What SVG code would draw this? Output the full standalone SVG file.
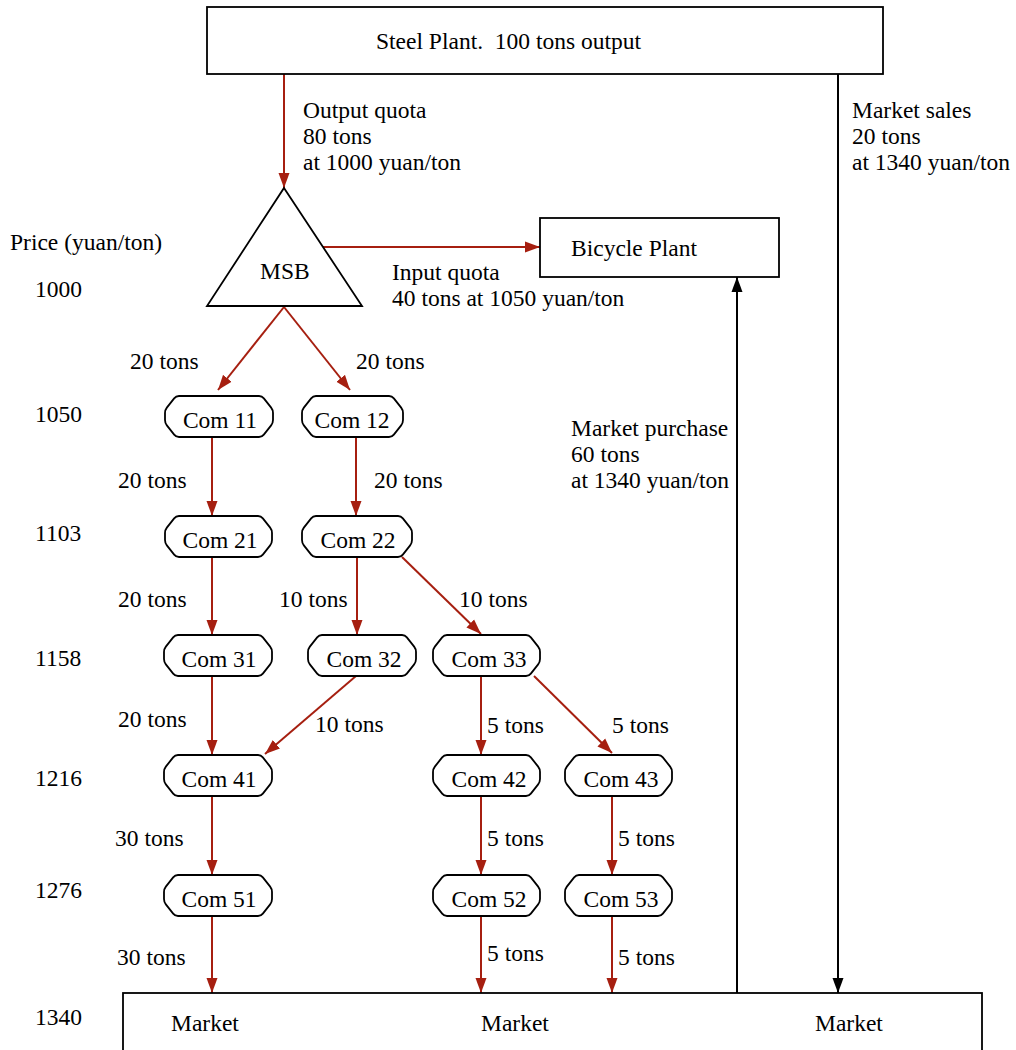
<svg xmlns="http://www.w3.org/2000/svg" width="1016" height="1050" viewBox="0 0 1016 1050">
<style>
text{font-family:"Liberation Serif","Times New Roman",serif;font-size:23.5px;fill:#000}
.c{text-anchor:middle}
.box{fill:#fff;stroke:#000;stroke-width:1.8}
.nd{fill:#fff;stroke:#000;stroke-width:1.8}
.e{fill:none;stroke:#a61f10;stroke-width:2;marker-end:url(#ar)}
.k{fill:none;stroke:#000;stroke-width:2}
.ka{fill:none;stroke:#000;stroke-width:2;marker-end:url(#ak)}
</style>
<defs>
<marker id="ar" markerUnits="userSpaceOnUse" markerWidth="16" markerHeight="12" refX="15" refY="6" orient="auto"><path d="M0,0.5 L15,6 L0,11.5 Z" fill="#a61f10"/></marker>
<marker id="ak" markerUnits="userSpaceOnUse" markerWidth="16" markerHeight="12" refX="15" refY="6" orient="auto"><path d="M0,0.5 L15,6 L0,11.5 Z" fill="#000"/></marker>
</defs>
<rect width="1016" height="1050" fill="#fff"/>

<g id="connectors">
<path class="e" d="M284,74 V188"/>
<path class="e" d="M320,247 H540"/>
<path class="e" d="M284,307 L218,390"/>
<path class="e" d="M284,307 L350,390"/>
<path class="e" d="M212,437 V516"/>
<path class="e" d="M356,437 V516"/>
<path class="e" d="M212,557 V635"/>
<path class="e" d="M357,557 V635"/>
<path class="e" d="M402,557 L481,634"/>
<path class="e" d="M212,676 V755"/>
<path class="e" d="M356,676 L265,754"/>
<path class="e" d="M481,676 V755"/>
<path class="e" d="M534,676 L612,753"/>
<path class="e" d="M212,796 V875"/>
<path class="e" d="M481,796 V875"/>
<path class="e" d="M612,796 V875"/>
<path class="e" d="M212,916 V993"/>
<path class="e" d="M481,916 V993"/>
<path class="e" d="M612,916 V993"/>
<path class="ka" d="M838,74 V993"/>
<path class="ka" d="M737,993 V277"/>
</g>

<g id="labels">
<text x="10" y="250">Price (yuan/ton)</text>
<text x="35" y="297">1000</text>
<text x="35" y="422">1050</text>
<text x="35" y="541">1103</text>
<text x="35" y="666">1158</text>
<text x="35" y="786">1216</text>
<text x="35" y="898">1276</text>
<text x="35" y="1025">1340</text>
<text x="303" y="118">Output quota</text>
<text x="303" y="144">80 tons</text>
<text x="303" y="170">at 1000 yuan/ton</text>
<text x="852" y="118">Market sales</text>
<text x="852" y="144">20 tons</text>
<text x="852" y="170">at 1340 yuan/ton</text>
<text x="392" y="280">Input quota</text>
<text x="392" y="306">40 tons at 1050 yuan/ton</text>
<text x="571" y="436">Market purchase</text>
<text x="571" y="462">60 tons</text>
<text x="571" y="488">at 1340 yuan/ton</text>
<text x="130" y="369">20 tons</text>
<text x="356" y="369">20 tons</text>
<text x="118" y="488">20 tons</text>
<text x="374" y="488">20 tons</text>
<text x="118" y="607">20 tons</text>
<text x="279" y="607">10 tons</text>
<text x="459" y="607">10 tons</text>
<text x="118" y="727">20 tons</text>
<text x="315" y="732">10 tons</text>
<text x="487" y="733">5 tons</text>
<text x="612" y="733">5 tons</text>
<text x="115" y="846">30 tons</text>
<text x="487" y="846">5 tons</text>
<text x="618" y="846">5 tons</text>
<text x="117" y="965">30 tons</text>
<text x="487" y="961">5 tons</text>
<text x="618" y="965">5 tons</text>
</g>

<g id="steel"><rect class="box" x="207" y="7" width="676" height="67"/><text x="376" y="49" xml:space="preserve">Steel Plant.  100 tons output</text></g>
<g id="bicycle"><rect class="box" x="540" y="218" width="239" height="59"/><text x="571" y="256">Bicycle Plant</text></g>
<g id="market"><rect class="box" x="123" y="993" width="859" height="80"/><text x="171" y="1031">Market</text><text x="481" y="1031">Market</text><text x="815" y="1031">Market</text></g>
<g id="msb"><polygon class="box" points="284,188 362,306 207,306"/><text x="260" y="279">MSB</text></g>

<g id="com11"><path class="nd" d="M179,396 h80 q3,0 4.85,2.36 l7.3,9.28 q1.85,2.36 1.85,5.36 v7 q0,3 -1.85,5.36 l-7.3,9.28 q-1.85,2.36 -4.85,2.36 h-80 q-3,0 -4.85,-2.36 l-7.3,-9.28 q-1.85,-2.36 -1.85,-5.36 v-7 q0,-3 1.85,-5.36 l7.3,-9.28 q1.85,-2.36 4.85,-2.36 z"/><text class="c" x="220" y="428">Com 11</text></g>
<g id="com12"><path class="nd" d="M316,396 h73 q3,0 4.85,2.36 l7.3,9.28 q1.85,2.36 1.85,5.36 v7 q0,3 -1.85,5.36 l-7.3,9.28 q-1.85,2.36 -4.85,2.36 h-73 q-3,0 -4.85,-2.36 l-7.3,-9.28 q-1.85,-2.36 -1.85,-5.36 v-7 q0,-3 1.85,-5.36 l7.3,-9.28 q1.85,-2.36 4.85,-2.36 z"/><text class="c" x="352" y="428">Com 12</text></g>
<g id="com21"><path class="nd" d="M179,516 h79 q3,0 4.85,2.36 l7.3,9.28 q1.85,2.36 1.85,5.36 v7 q0,3 -1.85,5.36 l-7.3,9.28 q-1.85,2.36 -4.85,2.36 h-79 q-3,0 -4.85,-2.36 l-7.3,-9.28 q-1.85,-2.36 -1.85,-5.36 v-7 q0,-3 1.85,-5.36 l7.3,-9.28 q1.85,-2.36 4.85,-2.36 z"/><text class="c" x="220" y="548">Com 21</text></g>
<g id="com22"><path class="nd" d="M316,516 h82 q3,0 4.85,2.36 l7.3,9.28 q1.85,2.36 1.85,5.36 v7 q0,3 -1.85,5.36 l-7.3,9.28 q-1.85,2.36 -4.85,2.36 h-82 q-3,0 -4.85,-2.36 l-7.3,-9.28 q-1.85,-2.36 -1.85,-5.36 v-7 q0,-3 1.85,-5.36 l7.3,-9.28 q1.85,-2.36 4.85,-2.36 z"/><text class="c" x="358" y="548">Com 22</text></g>
<g id="com31"><path class="nd" d="M178,635 h80 q3,0 4.85,2.36 l7.3,9.28 q1.85,2.36 1.85,5.36 v7 q0,3 -1.85,5.36 l-7.3,9.28 q-1.85,2.36 -4.85,2.36 h-80 q-3,0 -4.85,-2.36 l-7.3,-9.28 q-1.85,-2.36 -1.85,-5.36 v-7 q0,-3 1.85,-5.36 l7.3,-9.28 q1.85,-2.36 4.85,-2.36 z"/><text class="c" x="219" y="667">Com 31</text></g>
<g id="com32"><path class="nd" d="M322,635 h80 q3,0 4.85,2.36 l7.3,9.28 q1.85,2.36 1.85,5.36 v7 q0,3 -1.85,5.36 l-7.3,9.28 q-1.85,2.36 -4.85,2.36 h-80 q-3,0 -4.85,-2.36 l-7.3,-9.28 q-1.85,-2.36 -1.85,-5.36 v-7 q0,-3 1.85,-5.36 l7.3,-9.28 q1.85,-2.36 4.85,-2.36 z"/><text class="c" x="364" y="667">Com 32</text></g>
<g id="com33"><path class="nd" d="M447,635 h79 q3,0 4.85,2.36 l7.3,9.28 q1.85,2.36 1.85,5.36 v7 q0,3 -1.85,5.36 l-7.3,9.28 q-1.85,2.36 -4.85,2.36 h-79 q-3,0 -4.85,-2.36 l-7.3,-9.28 q-1.85,-2.36 -1.85,-5.36 v-7 q0,-3 1.85,-5.36 l7.3,-9.28 q1.85,-2.36 4.85,-2.36 z"/><text class="c" x="489" y="667">Com 33</text></g>
<g id="com41"><path class="nd" d="M178,755 h80 q3,0 4.85,2.36 l7.3,9.28 q1.85,2.36 1.85,5.36 v7 q0,3 -1.85,5.36 l-7.3,9.28 q-1.85,2.36 -4.85,2.36 h-80 q-3,0 -4.85,-2.36 l-7.3,-9.28 q-1.85,-2.36 -1.85,-5.36 v-7 q0,-3 1.85,-5.36 l7.3,-9.28 q1.85,-2.36 4.85,-2.36 z"/><text class="c" x="219" y="787">Com 41</text></g>
<g id="com42"><path class="nd" d="M447,755 h79 q3,0 4.85,2.36 l7.3,9.28 q1.85,2.36 1.85,5.36 v7 q0,3 -1.85,5.36 l-7.3,9.28 q-1.85,2.36 -4.85,2.36 h-79 q-3,0 -4.85,-2.36 l-7.3,-9.28 q-1.85,-2.36 -1.85,-5.36 v-7 q0,-3 1.85,-5.36 l7.3,-9.28 q1.85,-2.36 4.85,-2.36 z"/><text class="c" x="489" y="787">Com 42</text></g>
<g id="com43"><path class="nd" d="M579,755 h79 q3,0 4.85,2.36 l7.3,9.28 q1.85,2.36 1.85,5.36 v7 q0,3 -1.85,5.36 l-7.3,9.28 q-1.85,2.36 -4.85,2.36 h-79 q-3,0 -4.85,-2.36 l-7.3,-9.28 q-1.85,-2.36 -1.85,-5.36 v-7 q0,-3 1.85,-5.36 l7.3,-9.28 q1.85,-2.36 4.85,-2.36 z"/><text class="c" x="621" y="787">Com 43</text></g>
<g id="com51"><path class="nd" d="M178,875 h80 q3,0 4.85,2.36 l7.3,9.28 q1.85,2.36 1.85,5.36 v7 q0,3 -1.85,5.36 l-7.3,9.28 q-1.85,2.36 -4.85,2.36 h-80 q-3,0 -4.85,-2.36 l-7.3,-9.28 q-1.85,-2.36 -1.85,-5.36 v-7 q0,-3 1.85,-5.36 l7.3,-9.28 q1.85,-2.36 4.85,-2.36 z"/><text class="c" x="219" y="907">Com 51</text></g>
<g id="com52"><path class="nd" d="M447,875 h79 q3,0 4.85,2.36 l7.3,9.28 q1.85,2.36 1.85,5.36 v7 q0,3 -1.85,5.36 l-7.3,9.28 q-1.85,2.36 -4.85,2.36 h-79 q-3,0 -4.85,-2.36 l-7.3,-9.28 q-1.85,-2.36 -1.85,-5.36 v-7 q0,-3 1.85,-5.36 l7.3,-9.28 q1.85,-2.36 4.85,-2.36 z"/><text class="c" x="489" y="907">Com 52</text></g>
<g id="com53"><path class="nd" d="M579,875 h79 q3,0 4.85,2.36 l7.3,9.28 q1.85,2.36 1.85,5.36 v7 q0,3 -1.85,5.36 l-7.3,9.28 q-1.85,2.36 -4.85,2.36 h-79 q-3,0 -4.85,-2.36 l-7.3,-9.28 q-1.85,-2.36 -1.85,-5.36 v-7 q0,-3 1.85,-5.36 l7.3,-9.28 q1.85,-2.36 4.85,-2.36 z"/><text class="c" x="621" y="907">Com 53</text></g>
</svg>
